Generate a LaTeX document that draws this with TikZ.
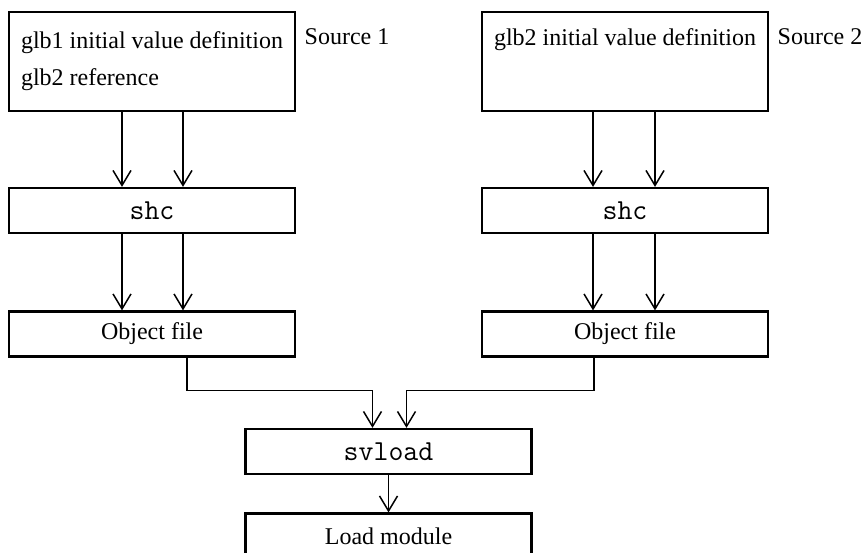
\documentclass[tikz,border=0pt]{standalone}
\usepackage{fontspec}
\setmainfont{Liberation Serif}
\usetikzlibrary{arrows.meta}

\begin{document}
\begin{tikzpicture}[x=1pt, y=-1pt, >={Straight Barb[length=15pt,width=18pt]},
  box/.style={draw, line width=2.2pt, minimum width=286pt, minimum height=45pt, inner sep=0pt, font=\fontsize{24}{37}\selectfont},
  cmd/.style={box, font=\fontsize{29}{30}\selectfont\ttfamily},
  src/.style={box, minimum height=99pt, align=left},
  flow/.style={->, line width=1.5pt}]
\useasboundingbox (0,0) rectangle (866,553);
% sources
\node[src] (src1) at (152,61.5) {glb1 initial value definition\\glb2 reference};
\node[src] (src2) at (625,61.5) {glb2 initial value definition\\\strut};
\node[font=\fontsize{24}{30}\selectfont] (lbl1) at (347,37) {Source 1};
\node[font=\fontsize{24}{30}\selectfont] (lbl2) at (820,37) {Source 2};
% compile
\node[cmd] (shc1) at (152,210.5) {shc};
\node[cmd] (shc2) at (625,210.5) {shc};
\node[box] (obj1) at (152,334) {Object file};
\node[box] (obj2) at (625,334) {Object file};
% link
\node[cmd] (sv) at (388.5,451.5) {svload};
\node[box] (load) at (388.5,536) {Load module};
\foreach \s in {-30,31}{
  \draw[flow] ([xshift=\s pt]src1.south) -- ([xshift=\s pt]shc1.north);
  \draw[flow] ([xshift=\s pt]shc1.south) -- ([xshift=\s pt]obj1.north);
}
\foreach \s in {-32,30}{
  \draw[flow] ([xshift=\s pt]src2.south) -- ([xshift=\s pt]shc2.north);
  \draw[flow] ([xshift=\s pt]shc2.south) -- ([xshift=\s pt]obj2.north);
}
\draw[flow] ([xshift=35pt]obj1.south) -- ++(0,33) -| ([xshift=-16pt]sv.north);
\draw[flow] ([xshift=-31pt]obj2.south) -- ++(0,33) -| ([xshift=18pt]sv.north);
\draw[flow] (sv) -- (load);
\end{tikzpicture}
\end{document}
